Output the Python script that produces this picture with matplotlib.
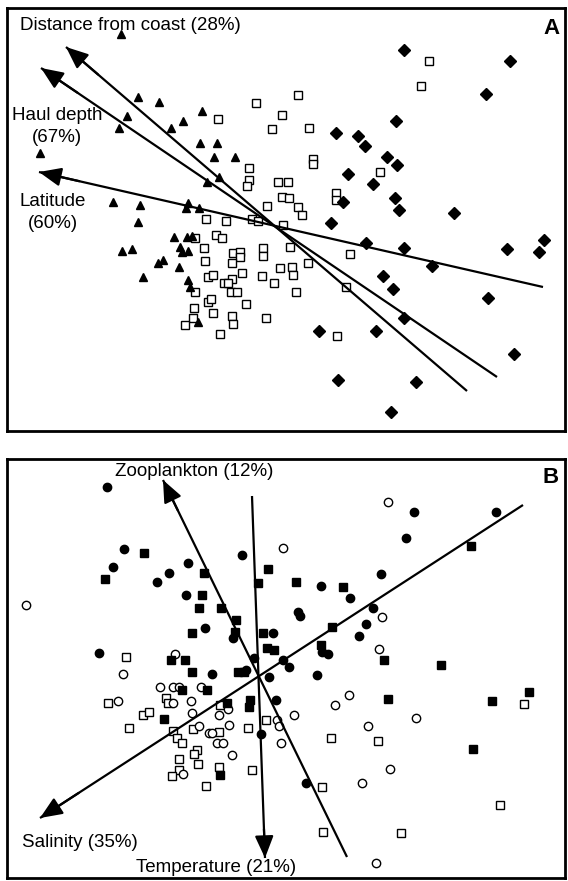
import matplotlib.pyplot as plt
import numpy as np

plt.rcParams['font.family'] = ['Liberation Sans', 'DejaVu Sans']

# ---------------------------------------------------------------
# panel A : ordination scores (plot units)
# ---------------------------------------------------------------
tri_x = [121, 138, 159, 127, 119, 202, 183, 171, 200, 217, 214, 235, 219, 207, 40, 113, 140, 188,
         186, 199, 138, 174, 187, 192, 122, 132, 180, 182, 188, 158, 163, 143, 179, 188, 190, 198]
tri_y = [34, 97, 102, 116, 128, 111, 121, 128, 143, 143, 157, 157, 177, 182, 153, 202, 205, 203,
         208, 208, 222, 237, 237, 236, 251, 249, 247, 252, 251, 263, 260, 277, 267, 280, 287, 322]

sq_x = [256, 282, 298, 218, 272, 309, 249, 249, 247, 278, 288, 313, 313, 282, 289, 267, 298, 302,
        252, 258, 283, 206, 226, 216, 222, 195, 204, 233, 240, 240, 263, 263, 290, 205, 232, 242,
        262, 280, 292, 293, 208, 213, 232, 224, 228, 274, 195, 231, 237, 296, 208, 211, 246, 194,
        213, 193, 185, 232, 233, 266, 220, 308, 350, 346, 337, 380, 336, 336, 421, 429]
sq_y = [103, 115, 95, 119, 129, 128, 168, 180, 186, 182, 182, 159, 164, 197, 198, 206, 207, 215,
        219, 221, 225, 219, 221, 235, 238, 238, 248, 253, 252, 257, 248, 256, 247, 261, 263, 273,
        276, 268, 267, 275, 277, 275, 279, 283, 283, 283, 292, 292, 292, 292, 302, 299, 304, 308,
        313, 318, 325, 316, 324, 318, 334, 263, 254, 287, 336, 172, 193, 200, 86, 61]

dia_x = [404, 510, 486, 396, 336, 358, 365, 387, 397, 348, 373, 395, 343, 399, 454, 331,
         366, 404, 432, 507, 544, 539, 383, 393, 488, 404, 319, 376, 514, 338, 416, 391]
dia_y = [50, 61, 94, 121, 133, 136, 146, 157, 165, 174, 184, 198, 202, 210, 213, 223,
         243, 248, 266, 249, 240, 252, 276, 289, 298, 318, 331, 331, 354, 380, 382, 412]

# vectors A: (tip, opposite end)
vecA_names = ['Latitude', 'Haul depth', 'Distance from coast']
vecA_tip = [(39, 172), (41, 68), (66, 47)]
vecA_end = [(543, 287), (497, 377), (467, 391)]

# ---------------------------------------------------------------
# panel B
# ---------------------------------------------------------------
fc_x = [107, 124, 113, 157, 169, 188, 242, 186, 205, 233, 273, 99, 254, 283, 289, 212, 246, 269,
        276, 261, 298, 300, 322, 328, 317, 306, 414, 496, 406, 381, 321, 350, 373, 366, 359]
fc_y = [487, 549, 567, 582, 573, 563, 555, 595, 628, 638, 633, 653, 658, 660, 667, 674, 670, 677,
        700, 734, 612, 616, 652, 654, 675, 783, 512, 512, 538, 574, 586, 598, 608, 624, 636]

oc_x = [283, 26, 175, 123, 160, 173, 179, 201, 118, 173, 191, 192, 228, 219, 229, 199, 209, 212,
        277, 279, 281, 217, 223, 232, 183, 294, 349, 335, 388, 382, 379, 416, 368, 390, 362, 376]
oc_y = [548, 605, 654, 674, 687, 687, 687, 687, 701, 703, 701, 713, 709, 715, 725, 726, 733, 733,
        720, 726, 743, 743, 743, 755, 774, 715, 695, 705, 502, 617, 649, 718, 726, 769, 783, 863]

fs_x = [144, 105, 204, 268, 258, 202, 199, 221, 236, 192, 235, 263, 267, 274, 171, 185, 192, 238,
        244, 182, 207, 227, 250, 249, 164, 220, 332, 321, 471, 296, 343, 384, 441, 388, 492, 529, 473]
fs_y = [553, 579, 573, 569, 583, 595, 608, 608, 620, 633, 632, 633, 648, 650, 660, 660, 672, 672,
        672, 690, 690, 703, 700, 707, 719, 775, 627, 645, 546, 582, 587, 660, 665, 699, 701, 692, 749]

os_x = [126, 108, 166, 168, 220, 143, 149, 129, 173, 177, 182, 193, 219, 197, 194, 179, 198, 219,
        179, 172, 206, 248, 266, 252, 331, 322, 524, 378, 500, 323, 401]
os_y = [657, 703, 698, 703, 705, 715, 712, 728, 731, 738, 743, 729, 732, 750, 754, 759, 764, 767,
        770, 776, 786, 728, 720, 770, 738, 787, 704, 741, 805, 832, 833]

vecB_names = ['Zooplankton', 'Temperature', 'Salinity']
vecB_tip = [(163, 480), (265, 858), (40, 818)]
vecB_end = [(347, 857), (252, 496), (523, 505)]

W, H = 568, 881
fig = plt.figure(figsize=(W / 100, H / 100), dpi=100)


def add_panel(top, bottom):
    ax = fig.add_axes([7 / W, 1 - bottom / H, (565 - 7) / W, (bottom - top) / H])
    ax.set_xlim(7, 565)
    ax.set_ylim(bottom, top)
    ax.set_xticks([])
    ax.set_yticks([])
    for s in ax.spines.values():
        s.set_linewidth(2)
    return ax


def draw_vec(ax, tip, end):
    ax.plot([tip[0], end[0]], [tip[1], end[1]], color='black', lw=1.6, zorder=4,
            solid_capstyle='butt')
    ax.annotate('', xy=tip, xytext=(tip[0] + (end[0] - tip[0]) * 0.08, tip[1] + (end[1] - tip[1]) * 0.08),
                arrowprops=dict(arrowstyle='-|>,head_length=0.9,head_width=0.38', color='black',
                                lw=1.6, mutation_scale=15, shrinkA=0, shrinkB=0), zorder=5)


axA = add_panel(8, 431)
axA.plot(sq_x, sq_y, ls='none', marker='s', ms=6, mfc='white', mec='black', mew=1, zorder=2)
axA.plot(tri_x, tri_y, ls='none', marker='^', ms=6, color='black', zorder=3)
axA.plot(dia_x, dia_y, ls='none', marker='D', ms=6, color='black', zorder=3)
for tip, end in zip(vecA_tip, vecA_end):
    draw_vec(axA, tip, end)

fs = 13.5
axA.text(20, 25, 'Distance from coast (28%)', fontsize=fs, ha='left', va='center')
axA.text(57, 116, 'Haul depth', fontsize=fs, ha='center', va='center')
axA.text(57, 137, '(67%)', fontsize=fs, ha='center', va='center')
axA.text(53, 202, 'Latitude', fontsize=fs, ha='center', va='center')
axA.text(53, 223, '(60%)', fontsize=fs, ha='center', va='center')
axA.text(551, 29, 'A', fontsize=16, fontweight='bold', ha='center', va='center')

axB = add_panel(459, 878)
axB.plot(os_x, os_y, ls='none', marker='s', ms=6, mfc='white', mec='black', mew=1, zorder=2)
axB.plot(oc_x, oc_y, ls='none', marker='o', ms=6, mfc='white', mec='black', mew=1, zorder=2)
axB.plot(fs_x, fs_y, ls='none', marker='s', ms=6, color='black', zorder=3)
axB.plot(fc_x, fc_y, ls='none', marker='o', ms=6, color='black', zorder=3)
for tip, end in zip(vecB_tip, vecB_end):
    draw_vec(axB, tip, end)

axB.text(194, 472, 'Zooplankton (12%)', fontsize=fs, ha='center', va='center')
axB.text(80, 843, 'Salinity (35%)', fontsize=fs, ha='center', va='center')
axB.text(216, 868, 'Temperature (21%)', fontsize=fs, ha='center', va='center')
axB.text(551, 478, 'B', fontsize=16, fontweight='bold', ha='center', va='center')

fig.savefig('out.png', dpi=100)
